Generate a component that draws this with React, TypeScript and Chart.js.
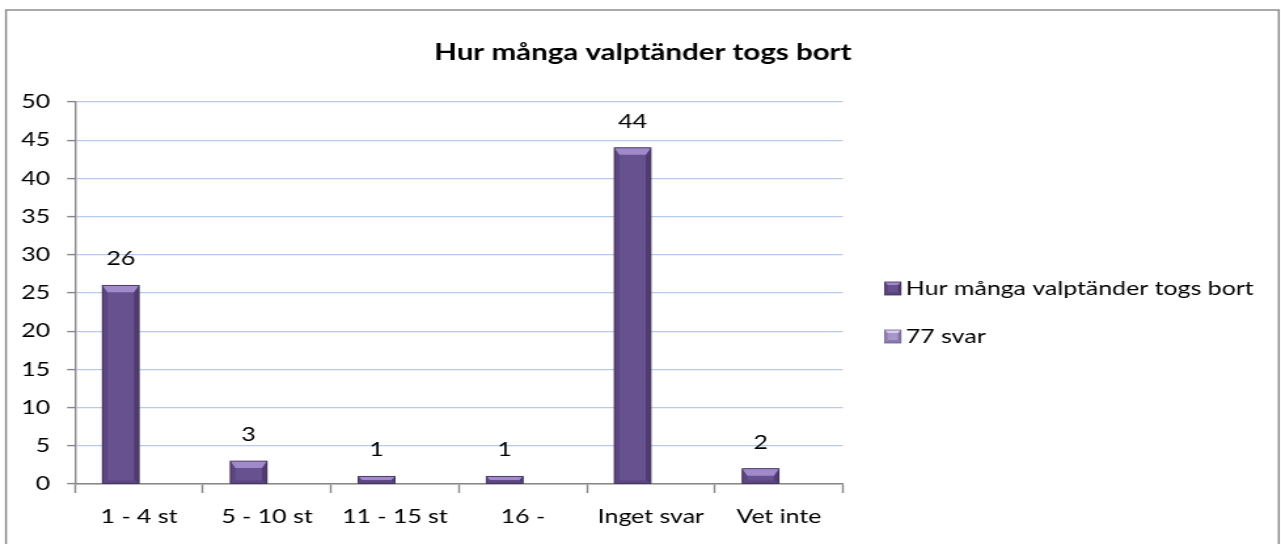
import React, { useEffect, useRef } from 'react';
import { Chart, registerables } from 'chart.js';

Chart.register(...registerables);

const titleText = 'Hur många valptänder togs bort';
const categories = ['1 - 4 st', '5 - 10 st', '11 - 15 st', '16 -', 'Inget svar', 'Vet inte'];
const seriesMain = [26, 3, 1, 1, 44, 2];
const seriesSecond: (number | null)[] = [null, null, null, null, null, null];
const seriesNames = ['Hur många valptänder togs bort', '77 svar'];
const yMin = 0;
const yMax = 50;
const yStep = 5;

const SX = 1.31; // horizontal stretch of the reference
const CSS_W = 1281;
const CSS_H = 544;
const W = Math.round(CSS_W / SX);
const H = CSS_H;
const FONT = 'Lato';
const FS = 19;

const AREA_LEFT = 75 / SX;
const AREA_RIGHT = 843 / SX;
const AREA_TOP = 102;
const AREA_BOTTOM = 484;

type Pal = { light: string; body: string; left: string; right: string; bottom: string; outline: string };
const palMain: Pal = { light: '#a08acb', body: '#67518e', left: '#5b467f', right: '#4f3d70', bottom: '#5a4680', outline: '#3c2c53' };
const palSecond: Pal = { light: '#d7cdea', body: '#a796c8', left: '#9483b8', right: '#8675a8', bottom: '#8b7aae', outline: '#6f6090' };

function bevelRect(ctx: CanvasRenderingContext2D, left: number, top: number, right: number, bottom: number, pal: Pal, maxB: number) {
  const h = bottom - top;
  const w = right - left;
  if (h <= 0 || w <= 0) return;
  const b = Math.min(maxB, h / 2, (w * SX) / 2);
  const bx = Math.min(b, 5) / SX;
  const by = b;
  const bb = Math.min(b, 3);
  ctx.save();
  ctx.fillStyle = pal.body;
  ctx.fillRect(left, top, w, h);
  const poly = (pts: number[][], color: string) => {
    ctx.beginPath();
    ctx.moveTo(pts[0][0], pts[0][1]);
    for (let i = 1; i < pts.length; i++) ctx.lineTo(pts[i][0], pts[i][1]);
    ctx.closePath();
    ctx.fillStyle = color;
    ctx.fill();
  };
  poly([[left, top], [left + bx, top + by], [left + bx, bottom - bb], [left, bottom]], pal.left);
  poly([[right, top], [right - bx, top + by], [right - bx, bottom - bb], [right, bottom]], pal.right);
  poly([[left, bottom], [left + bx, bottom - bb], [right - bx, bottom - bb], [right, bottom]], pal.bottom);
  poly([[left, top], [right, top], [right - bx, top + by], [left + bx, top + by]], pal.light);
  ctx.strokeStyle = pal.outline;
  ctx.lineWidth = 0.8;
  ctx.strokeRect(left, top, w, h);
  ctx.restore();
}

const framePlugin = {
  id: 'frame',
  beforeDraw(chart: any) {
    const ctx = chart.ctx as CanvasRenderingContext2D;
    ctx.save();
    ctx.fillStyle = '#ffffff';
    ctx.fillRect(0, 0, chart.width, chart.height);
    ctx.strokeStyle = '#878787';
    ctx.lineWidth = 1.4;
    ctx.strokeRect(6 / SX, 10, 1273 / SX, H + 10);
    ctx.restore();
  },
  afterDraw(chart: any) {
    const ctx = chart.ctx as CanvasRenderingContext2D;
    ctx.save();
    ctx.fillStyle = '#000000';
    ctx.font = `bold 22.5px ${FONT}`;
    ctx.textAlign = 'center';
    ctx.textBaseline = 'middle';
    ctx.fillText(titleText, 643 / SX, 53);

    // legend
    const items = [
      { name: seriesNames[0], pal: palMain, y: 289 },
      { name: seriesNames[1], pal: palSecond, y: 337 },
    ];
    ctx.font = `${FS}px ${FONT}`;
    ctx.textAlign = 'left';
    items.forEach((it) => {
      bevelRect(ctx, 885 / SX, it.y - 7, 901 / SX, it.y + 6, it.pal, 3);
      ctx.fillStyle = '#000000';
      ctx.fillText(it.name, 906 / SX, it.y);
    });
    ctx.restore();
  },
};

const barsPlugin = {
  id: 'bevelBars',
  afterDatasetsDraw(chart: any) {
    const ctx = chart.ctx as CanvasRenderingContext2D;
    const meta = chart.getDatasetMeta(0);
    ctx.save();
    meta.data.forEach((el: any, i: number) => {
      const v = seriesMain[i];
      if (v == null) return;
      const p = el.getProps(['x', 'y', 'base', 'width'], true);
      bevelRect(ctx, p.x - p.width / 2, p.y, p.x + p.width / 2, p.base, palMain, 7);
      ctx.fillStyle = '#000000';
      ctx.font = `${FS}px ${FONT}`;
      ctx.textAlign = 'center';
      ctx.textBaseline = 'middle';
      ctx.fillText(String(v), p.x, p.y - 26);
    });
    ctx.restore();
  },
};

export default function App() {
  const ref = useRef<HTMLCanvasElement | null>(null);
  useEffect(() => {
    const canvas = ref.current;
    if (!canvas) return;
    const chart = new Chart(canvas, {
      type: 'bar',
      data: {
        labels: categories,
        datasets: [
          {
            label: seriesNames[0],
            data: seriesMain,
            backgroundColor: palMain.body,
            borderWidth: 0,
            categoryPercentage: 2 / 3.5,
            barPercentage: 1,
          },
          {
            label: seriesNames[1],
            data: seriesSecond,
            backgroundColor: palSecond.body,
            borderWidth: 0,
            categoryPercentage: 2 / 3.5,
            barPercentage: 1,
          },
        ],
      },
      options: {
        responsive: false,
        animation: false,
        devicePixelRatio: 1,
        events: [],
        layout: {
          padding: { left: 0, top: AREA_TOP, right: W - AREA_RIGHT, bottom: 0 },
        },
        plugins: {
          legend: { display: false },
          title: { display: false },
          tooltip: { enabled: false },
        },
        scales: {
          x: {
            offset: true,
            afterFit: (scale: any) => {
              scale.height = H - AREA_BOTTOM;
            },
            grid: {
              display: true,
              drawOnChartArea: false,
              drawTicks: true,
              tickLength: 9,
              tickColor: '#878787',
              tickWidth: 1.4,
            },
            border: { display: true, color: '#878787', width: 1.4 },
            ticks: {
              color: '#000000',
              font: { family: FONT, size: FS },
              padding: 12,
              maxRotation: 0,
              autoSkip: false,
            },
          },
          y: {
            min: yMin,
            max: yMax,
            afterFit: (scale: any) => {
              scale.width = AREA_LEFT;
            },
            grid: {
              color: '#b9cbec',
              lineWidth: 1.2,
              drawTicks: true,
              tickLength: 6,
              tickColor: '#878787',
              tickWidth: 1.4,
            },
            border: { display: true, color: '#878787', width: 1.4 },
            ticks: {
              stepSize: yStep,
              color: '#000000',
              font: { family: FONT, size: FS },
              padding: 13,
            },
          },
        },
      },
      plugins: [framePlugin, barsPlugin],
    } as any);
    return () => chart.destroy();
  }, []);

  return (
    <div style={{ position: 'absolute', left: 0, top: 0, width: CSS_W, height: CSS_H, overflow: 'hidden', background: '#fff' }}>
      <canvas
        ref={ref}
        width={W}
        height={H}
        style={{ width: `${CSS_W}px`, height: `${CSS_H}px`, display: 'block' }}
      />
    </div>
  );
}
